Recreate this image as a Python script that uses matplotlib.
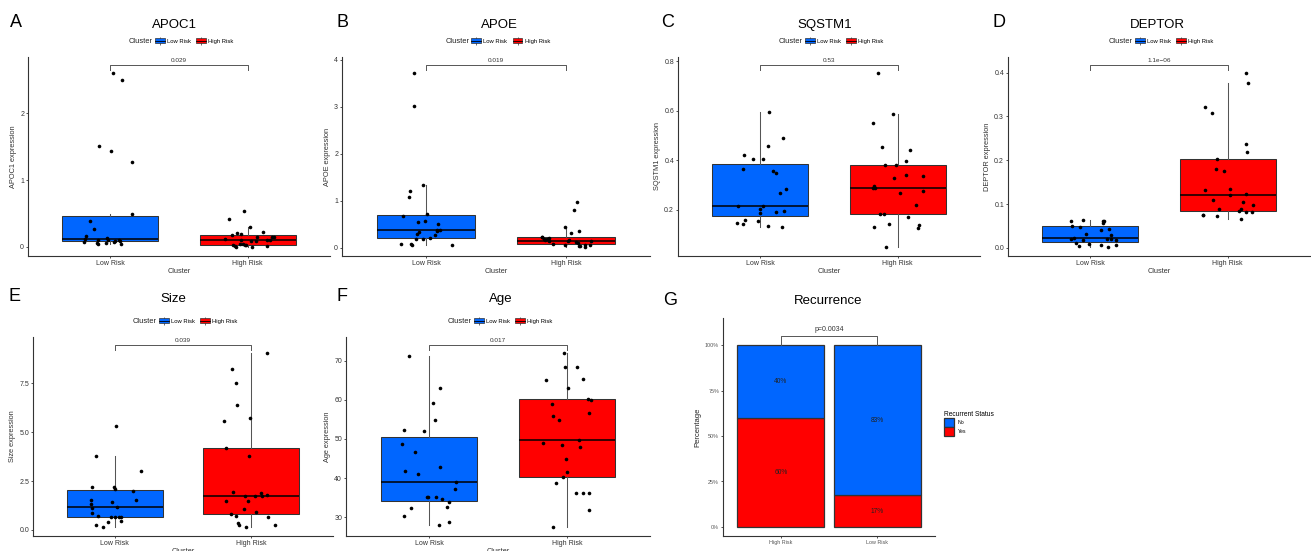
import numpy as np
import matplotlib
matplotlib.use('Agg')
import matplotlib.pyplot as plt
import seaborn as sns
from matplotlib.patches import Patch
from matplotlib.lines import Line2D
from matplotlib.legend_handler import HandlerTuple

plt.rcParams['font.family'] = ['Liberation Sans', 'DejaVu Sans']

W, H = 1311, 551
BLUE = '#0066FF'
RED = '#FF0000'

groups = ['Low Risk', 'High Risk']

# ---- values ----
apoc1_low = [2.6, 2.5, 1.51, 1.435, 1.28, 0.495, 0.395, 0.27, 0.16, 0.135, 0.115,
             0.11, 0.11, 0.10, 0.095, 0.09, 0.08, 0.075, 0.065, 0.06, 0.05, 0.05]
apoc1_high = [0.545, 0.42, 0.295, 0.225, 0.205, 0.185, 0.19, 0.155, 0.15, 0.15, 0.11,
              0.10, 0.105, 0.125, 0.085, 0.09, 0.05, 0.035, 0.045, 0.025, 0.01,
              0.005, 0.03, 0.02, 0.005]

apoe_low = [3.71, 3.01, 1.33, 1.21, 1.07, 0.72, 0.67, 0.56, 0.55, 0.50, 0.37, 0.35,
            0.37, 0.34, 0.27, 0.30, 0.21, 0.185, 0.185, 0.08, 0.065, 0.065, 0.07]
apoe_high = [0.97, 0.80, 0.355, 0.43, 0.32, 0.235, 0.225, 0.21, 0.185, 0.18, 0.165,
             0.155, 0.14, 0.13, 0.115, 0.14, 0.105, 0.085, 0.05, 0.065, 0.035, 0.05,
             0.02, 0.035]

sqstm1_low = [0.596, 0.49, 0.456, 0.405, 0.404, 0.42, 0.363, 0.358, 0.35, 0.284, 0.27,
              0.215, 0.215, 0.204, 0.197, 0.19, 0.187, 0.157, 0.16, 0.142, 0.146,
              0.133, 0.134]
sqstm1_high = [0.75, 0.587, 0.55, 0.453, 0.44, 0.398, 0.382, 0.38, 0.34, 0.335, 0.327,
               0.298, 0.288, 0.288, 0.275, 0.27, 0.219, 0.185, 0.182, 0.17, 0.138,
               0.145, 0.131, 0.129, 0.052]

deptor_low = [0.062, 0.050, 0.040, 0.043, 0.056, 0.063, 0.062, 0.062, 0.048, 0.031,
              0.030, 0.020, 0.021, 0.021, 0.018, 0.018, 0.022, 0.011, 0.003, 0.006,
              0.007, 0.008, 0.005]
deptor_high = [0.398, 0.377, 0.321, 0.307, 0.238, 0.220, 0.203, 0.181, 0.176, 0.134,
               0.133, 0.122, 0.121, 0.105, 0.109, 0.098, 0.089, 0.089, 0.082, 0.085,
               0.083, 0.075, 0.076, 0.065, 0.072]

size_low = [5.30, 3.79, 2.99, 2.08, 1.98, 2.19, 2.19, 1.52, 1.55, 1.42, 1.33, 1.13,
            1.16, 0.87, 0.73, 0.67, 0.67, 0.67, 0.67, 0.41, 0.46, 0.26, 0.17]
size_high = [9.02, 8.22, 7.50, 6.37, 5.74, 5.57, 4.19, 3.76, 1.95, 1.90, 1.78, 1.74,
             1.74, 1.74, 1.49, 1.47, 1.09, 0.91, 0.80, 0.70, 0.67, 0.36, 0.17, 0.24,
             0.26]

age_low = [71.1, 63.0, 59.2, 54.7, 52.3, 52.1, 48.8, 46.7, 42.8, 41.8, 41.0, 39.1,
           37.2, 35.2, 34.7, 35.2, 35.2, 33.8, 32.4, 32.7, 30.3, 28.7, 27.9]
age_high = [71.8, 68.3, 68.3, 65.2, 65.0, 63.0, 60.3, 60.0, 58.9, 55.9, 56.6, 54.7,
            48.9, 49.6, 48.4, 48.0, 44.9, 41.6, 40.2, 38.8, 36.1, 36.1, 36.1, 31.9,
            27.6]

pvals = ['0.029', '0.019', '0.53', '1.1e\u221206', '0.039', '0.017']

rec_groups = ['High Risk', 'Low Risk']
rec_yes = [60.0, 17.4]
rec_no = [40.0, 82.6]
rec_p = 'p=0.0034'
pct_ticks = [0, 25, 50, 75, 100]
pct_labels = ['0%', '25%', '50%', '75%', '100%']

# ---- layout (pixels) ----
def rect(l, t, w, h):
    return [l / W, 1 - (t + h) / H, w / W, h / H]


panels = [
    dict(letter='A', title='APOC1', low=apoc1_low, high=apoc1_high, p=pvals[0],
         yt=[0, 1, 2], ytl=['0', '1', '2'], box=(28, 57, 302, 199), tx=174, lx=10),
    dict(letter='B', title='APOE', low=apoe_low, high=apoe_high, p=pvals[1],
         yt=[0, 1, 2, 3, 4], ytl=['0', '1', '2', '3', '4'], box=(342, 57, 308, 199),
         tx=499, lx=336),
    dict(letter='C', title='SQSTM1', low=sqstm1_low, high=sqstm1_high, p=pvals[2],
         yt=[0.2, 0.4, 0.6, 0.8], ytl=['0.2', '0.4', '0.6', '0.8'],
         box=(678, 57, 302, 199), tx=825, lx=661),
    dict(letter='D', title='DEPTOR', low=deptor_low, high=deptor_high, p=pvals[3],
         yt=[0, 0.1, 0.2, 0.3, 0.4], ytl=['0.0', '0.1', '0.2', '0.3', '0.4'],
         box=(1008, 57, 302, 199), tx=1157, lx=993),
    dict(letter='E', title='Size', low=size_low, high=size_high, p=pvals[4],
         yt=[0, 2.5, 5.0, 7.5], ytl=['0.0', '2.5', '5.0', '7.5'],
         box=(33, 337, 300, 199), tx=173, lx=9),
    dict(letter='F', title='Age', low=age_low, high=age_high, p=pvals[5],
         yt=[30, 40, 50, 60, 70], ytl=['30', '40', '50', '60', '70'],
         box=(346, 337, 304, 199), tx=501, lx=337),
]

AX_C = '#333333'
TXT_C = '#333333'


def style_axes(ax, tsize=5.0):
    for s in ('top', 'right'):
        ax.spines[s].set_visible(False)
    for s in ('left', 'bottom'):
        ax.spines[s].set_color(AX_C)
        ax.spines[s].set_linewidth(0.8)
    ax.tick_params(length=1.6, width=0.6, color=AX_C, labelsize=tsize,
                   labelcolor=TXT_C, pad=1.2)


fig = plt.figure(figsize=(W / 100, H / 100), dpi=100)
np.random.seed(3)

for pn in panels:
    l, t, w, h = pn['box']
    ax = fig.add_axes(rect(l, t, w, h))
    data = [pn['low'], pn['high']]
    ax.boxplot(data, positions=[0, 1], widths=0.7, patch_artist=True,
               showfliers=False, showcaps=False, whis=1.5,
               boxprops=dict(edgecolor='#333333', linewidth=0.75),
               whiskerprops=dict(color='#555555', linewidth=0.75),
               medianprops=dict(color='black', linewidth=1.1))
    for patch, c in zip(ax.patches, [BLUE, RED]):
        patch.set_facecolor(c)
    xs = [groups[0]] * len(pn['low']) + [groups[1]] * len(pn['high'])
    ys = list(pn['low']) + list(pn['high'])
    sns.stripplot(x=xs, y=ys, order=groups, jitter=0.2, color='black', size=2.6,
                  ax=ax, zorder=4, linewidth=0)

    allv = np.array(ys)
    ymin, ymax = allv.min(), allv.max()
    rng = ymax - ymin
    br = ymax + 0.05 * rng
    tk = ymax + 0.02 * rng
    ax.plot([0, 0, 1, 1], [tk, br, br, tk], color='#555555', lw=0.7, zorder=5)
    ax.annotate(pn['p'], (0.5, br), xytext=(0, 1.2), textcoords='offset points',
                ha='center', va='bottom', fontsize=4.6, color='#333333')
    ax.set_ylim(ymin - 0.054 * rng, ymax + 0.095 * rng)
    ax.set_xlim(-0.6, 1.6)
    ax.set_yticks(pn['yt'])
    ax.set_yticklabels(pn['ytl'])
    ax.set_xticks([0, 1])
    ax.set_xticklabels(groups, fontsize=5.3)
    style_axes(ax)
    ax.set_xlabel('Cluster', fontsize=5.3, color=TXT_C, labelpad=0.6)
    ax.set_ylabel(pn['title'] + ' expression', fontsize=5.3, color=TXT_C, labelpad=2.5)

    # legend on top
    hnd = [(Line2D([], [], marker='|', linestyle='none', color='#333333',
                   markersize=5.5, markeredgewidth=0.5),
            Patch(facecolor=c, edgecolor='#333333', linewidth=0.5),
            Line2D([], [], color='black', lw=0.6)) for c in (BLUE, RED)]
    ax.legend(hnd, groups, handler_map={tuple: HandlerTuple(ndivide=1)}, ncol=2,
              loc='center left', bbox_to_anchor=(0.42, 1.08), frameon=False,
              fontsize=4.2, handlelength=1.7, handleheight=1.0, handletextpad=0.35,
              columnspacing=0.9, borderpad=0, borderaxespad=0)
    ax.text(0.413, 1.08, 'Cluster', transform=ax.transAxes, ha='right', va='center',
            fontsize=5.4, color='#222222')

    base = 28 if t < 200 else 302
    fig.text(pn['tx'] / W, 1 - base / H, pn['title'], ha='center', va='baseline',
             fontsize=9.5)
    fig.text(pn['lx'] / W, 1 - (base - 1) / H, pn['letter'], ha='left',
             va='baseline', fontsize=13)

# ---- panel G ----
axg = fig.add_axes(rect(723, 318, 212, 218))
x = np.arange(len(rec_groups))
axg.bar(x, rec_yes, width=0.9, color=RED, edgecolor='#333333', linewidth=0.9)
axg.bar(x, rec_no, bottom=rec_yes, width=0.9, color=BLUE, edgecolor='#333333',
        linewidth=0.9)
for i in range(len(rec_groups)):
    axg.text(x[i], rec_yes[i] / 2, f'{rec_yes[i]:.0f}%', ha='center', va='center',
             fontsize=4.8, color='#222222')
    axg.text(x[i], rec_yes[i] + rec_no[i] / 2, f'{rec_no[i]:.0f}%', ha='center',
             va='center', fontsize=4.8, color='#222222')
axg.plot([0, 0, 1, 1], [100, 105, 105, 100], color='#555555', lw=0.7)
axg.text(0.5, 106.5, rec_p, ha='center', va='bottom', fontsize=5, color='#333333')
axg.set_xlim(-0.6, 1.6)
axg.set_ylim(-5, 115)
axg.set_yticks(pct_ticks)
axg.set_yticklabels(pct_labels)
axg.set_xticks(x)
axg.set_xticklabels(rec_groups)
style_axes(axg, tsize=3.9)
axg.tick_params(labelcolor='#555555')
axg.set_ylabel('Percentage', fontsize=5.5, color='#222222', labelpad=2.5)
fig.text(828 / W, 1 - 304 / H, 'Recurrence', ha='center', va='baseline', fontsize=9.5)
fig.text(663 / W, 1 - 305 / H, 'G', ha='left', va='baseline', fontsize=13)

fig.legend(handles=[Patch(facecolor=BLUE, edgecolor='#333333', linewidth=0.9),
                    Patch(facecolor=RED, edgecolor='#333333', linewidth=0.9)],
           labels=['No', 'Yes'], title='Recurrent Status', loc='upper left',
           bbox_to_anchor=(944 / W, 1 - 411 / H), frameon=False, fontsize=3.8,
           title_fontsize=4.8, alignment='left', handlelength=1.9, handleheight=2.3,
           labelspacing=0.0, handletextpad=0.7, borderpad=0, borderaxespad=0)

fig.savefig('out.png', dpi=100)
